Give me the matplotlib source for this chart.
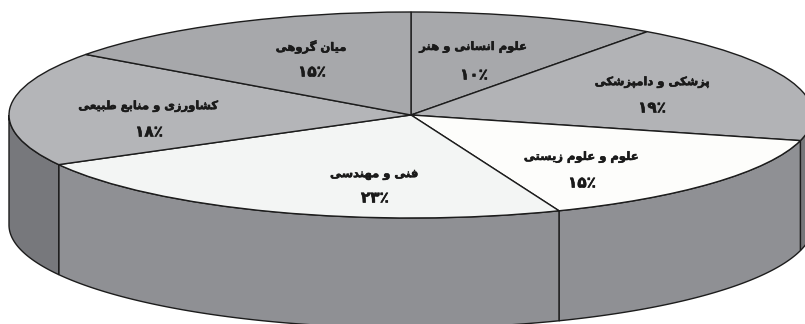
import matplotlib
matplotlib.use('Agg')
import matplotlib.pyplot as plt
import matplotlib.patheffects as pe
import numpy as np

# clockwise from the top of the pie
categories = ['علوم انسانی و هنر', 'پزشکی و دامپزشکی', 'علوم و علوم زیستی',
              'فنی و مهندسی', 'کشاورزی و منابع طبیعی', 'میان گروهی']
values = [10, 19, 15, 23, 18, 15]
value_labels = ['۱۰٪', '۱۹٪', '۱۵٪', '۲۳٪', '۱۸٪', '۱۵٪']
colors = ['#a7a8ab', '#b2b3b6', '#fdfdfb', '#f3f5f4', '#b4b5b8', '#a7a8ab']

W, H = 805, 324
CX, CY, RX, RY = 411, 115, 402, 103
DEPTH = 110 / RY

# label centres in pixels (name, then value)
name_pos = [(473, 47), (652, 82), (581, 157), (374, 174), (148, 106), (311, 47)]
value_pos = [(474, 75), (652, 108), (582, 183), (375, 198), (149, 132), (312, 72)]

# matplotlib has no arabic shaping, so pick the presentation forms by hand
# letter: isolated, final, initial, medial
FORMS = {
    'ا': 'ﺍﺎ', 'د': 'ﺩﺪ', 'ر': 'ﺭﺮ', 'ز': 'ﺯﺰ', 'ژ': 'ﮊﮋ', 'و': 'ﻭﻮ',
    'ب': 'ﺏﺐﺑﺒ', 'پ': 'ﭖﭗﭘﭙ', 'س': 'ﺱﺲﺳﺴ', 'ش': 'ﺵﺶﺷﺸ', 'ط': 'ﻁﻂﻃﻄ',
    'ت': 'ﺕﺖﺗﺘ', 'ع': 'ﻉﻊﻋﻌ', 'ف': 'ﻑﻒﻓﻔ', 'ک': 'ﮎﮏﮐﮑ', 'گ': 'ﮒﮓﮔﮕ',
    'ل': 'ﻝﻞﻟﻠ', 'م': 'ﻡﻢﻣﻤ', 'ن': 'ﻥﻦﻧﻨ', 'ه': 'ﻩﻪﻫﻬ', 'ی': 'ﯼﯽﯾﯿ',
}


def shape(text):
    out = []
    for i, c in enumerate(text):
        if c not in FORMS:
            out.append(c)
            continue
        prev_joins = i > 0 and text[i - 1] in FORMS and len(FORMS[text[i - 1]]) == 4
        next_joins = i + 1 < len(text) and text[i + 1] in FORMS and len(FORMS[c]) == 4
        if prev_joins and next_joins:
            out.append(FORMS[c][3])
        elif next_joins:
            out.append(FORMS[c][2])
        elif prev_joins:
            out.append(FORMS[c][1])
        else:
            out.append(FORMS[c][0])
    return ''.join(reversed(out))


def to_data(px, py):
    return (px - CX) / RX, (CY - py) / RY


fig = plt.figure(figsize=(W / 100, H / 100), dpi=100)
ax = fig.add_axes([0, 0, 1, 1])

ax.pie(values, colors=colors, startangle=90, counterclock=False, radius=1,
       wedgeprops={'edgecolor': '#1c1c1c', 'linewidth': 1.0, 'zorder': 3})
ax.set_aspect('auto')
ax.set_xlim(-CX / RX, (W - CX) / RX)
ax.set_ylim((CY - H) / RY, CY / RY)

# side wall, cut where the slices meet the front of the rim
edges = np.cumsum(values) / sum(values)
wall_parts = [(0.25, edges[1], '#76777a'), (edges[1], edges[2], '#8f9094'),
              (edges[2], edges[3], '#8f9094'), (edges[3], 0.75, '#77787c')]
for start, end, col in wall_parts:
    t = np.linspace(start, end, 120) * 2 * np.pi
    xs = np.r_[np.sin(t), np.sin(t[::-1])]
    ys = np.r_[np.cos(t), np.cos(t[::-1]) - DEPTH]
    ax.fill(xs, ys, facecolor=col, edgecolor='#1c1c1c', linewidth=1.0, zorder=2)

# the original lettering is heavier than DejaVu bold
heavy = [pe.withStroke(linewidth=0.4, foreground='#1a1a1a')]
font = {'family': 'DejaVu Sans', 'weight': 'bold', 'color': '#1a1a1a',
        'ha': 'center', 'va': 'center', 'zorder': 5, 'path_effects': heavy}
for name, val, p1, p2 in zip(categories, value_labels, name_pos, value_pos):
    ax.text(*to_data(*p1), shape(name), fontsize=8.3, **font)
    ax.text(*to_data(*p2), val, fontsize=11, **font)

fig.savefig('out.png', dpi=100, facecolor='white')
